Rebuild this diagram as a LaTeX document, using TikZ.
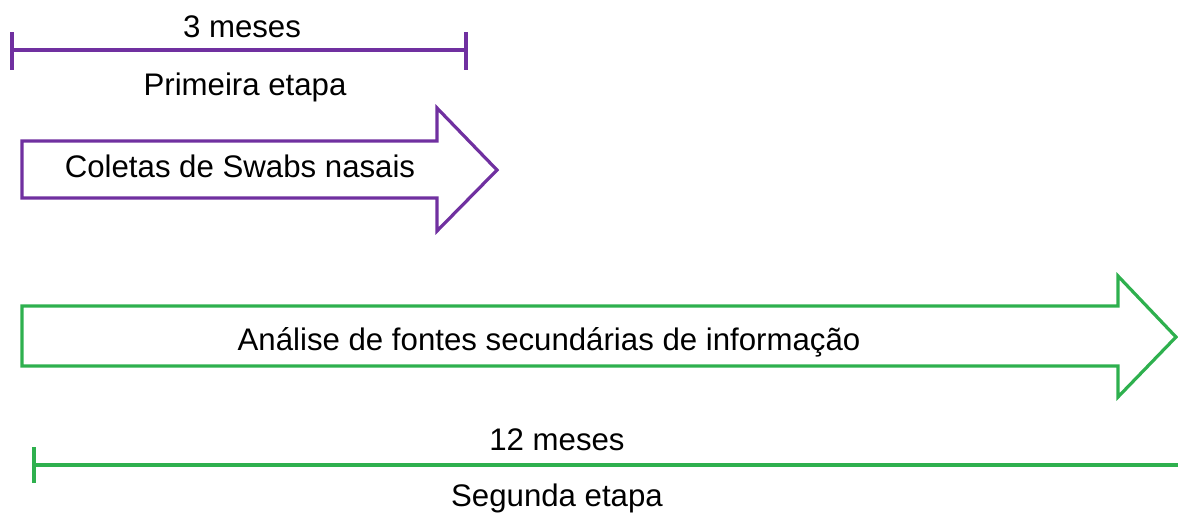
\documentclass[tikz,border=0pt]{standalone}
\usepackage{fontspec}
\setmainfont{Liberation Sans}
\definecolor{purp}{HTML}{7030A0}
\definecolor{grn}{HTML}{2EB04E}
\begin{document}
\begin{tikzpicture}[x=1pt,y=-1pt,
  lbl/.style={inner sep=0pt,font=\fontsize{31.2}{36}\selectfont},
  pline/.style={draw=purp,line width=3.2pt},
  gline/.style={draw=grn,line width=3.2pt}]
\useasboundingbox (0,0) rectangle (1178,515);
% top bracket
\coordinate (pl) at (12,50);
\coordinate (pr) at (466,50);
\draw[pline] (pl) -- (pr);
\draw[pline] (12,32) -- (12,70);
\draw[pline] (466,32) -- (466,70);
\node[lbl] (t3) at (242,27) {3 meses};
\node[lbl] (pe) at (245,87) {Primeira etapa};
% purple arrow
\draw[pline,line join=miter] (22,141) -- (437,141) -- (437,108) -- (497,170) -- (437,231) -- (437,198) -- (22,198) -- cycle;
\node[lbl] (cs) at (240,166) {Coletas de Swabs nasais};
% green arrow
\draw[gline,line join=miter] (22,306) -- (1118,306) -- (1118,276) -- (1176,337) -- (1118,397) -- (1118,366) -- (22,366) -- cycle;
\node[lbl] (an) at (549,342) {Análise de fontes secundárias de informação};
% bottom line
\coordinate (gl) at (34,465);
\coordinate (gr) at (1178,465);
\draw[gline] (gl) -- (gr);
\draw[gline] (34,447) -- (34,483);
\node[lbl] (t12) at (557,440) {12 meses};
\node[lbl] (se) at (557,498) {Segunda etapa};
\end{tikzpicture}
\end{document}
